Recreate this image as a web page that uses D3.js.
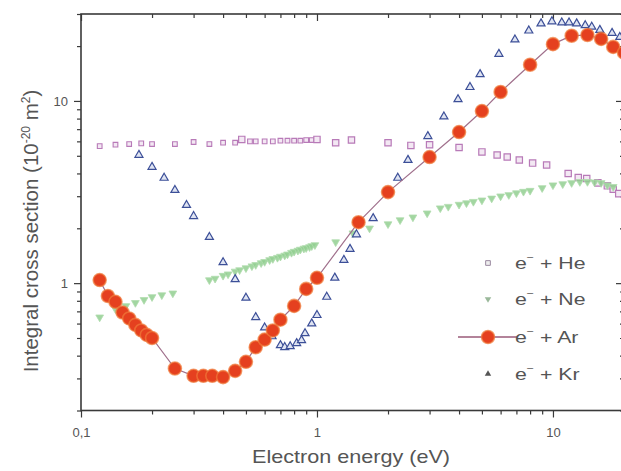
<!DOCTYPE html>
<html>
<head>
<meta charset="utf-8">
<script src="https://cdn.jsdelivr.net/npm/d3@7"></script>
<style>
  html, body { margin: 0; padding: 0; background: #fff; }
  svg { display: block; font-family: "Liberation Sans", Arial, sans-serif; }
</style>
</head>
<body>
<svg id="chart" width="621" height="471"></svg>
<script>
// Integral cross sections for electron scattering on rare gases, [energy eV, sigma 1e-20 m^2]
const heDense = [[0.12,5.65],[0.14,5.75],[0.16,5.8],[0.18,5.85],[0.2,5.8],[0.25,5.8],[0.3,5.95],[0.35,5.8],[0.4,5.9],[0.45,5.9],[0.52,6.0],[0.55,6.0],[0.6,6.0],[0.65,6.0],[0.7,6.05],[0.75,6.05],[0.8,6.05],[0.85,6.05],[0.9,6.1],[0.95,6.1]];
const heSparse = [[0.48,6.15],[1.0,6.15],[1.2,5.9],[1.4,6.1],[2,5.9],[2.5,5.7],[3,5.75],[4,5.55],[5,5.25],[5.8,5.05],[6.4,4.92],[7.2,4.74],[8.2,4.56],[9.4,4.45],[11.6,4.0],[12.8,3.8],[13.9,3.75],[15.5,3.55],[17,3.42],[18,3.28],[19,3.1]];
const neData = [[0.12,0.65],[0.14,0.72],[0.155,0.75],[0.17,0.78],[0.185,0.81],[0.2,0.84],[0.22,0.86],[0.245,0.88],
  [0.35,1.04],[0.37,1.06],[0.4,1.10],[0.42,1.12],[0.45,1.16],[0.47,1.18],[0.5,1.21],[0.53,1.24],[0.55,1.26],[0.58,1.29],[0.6,1.31],[0.63,1.34],[0.65,1.36],[0.68,1.38],[0.7,1.40],[0.73,1.42],[0.75,1.44],[0.78,1.47],[0.8,1.49],[0.83,1.51],[0.85,1.53],[0.88,1.55],[0.9,1.56],[0.93,1.58],[0.95,1.60],[0.98,1.62],
  [1.2,1.68],[1.42,1.88],[1.67,2.0],[2,2.11],[2.25,2.22],[2.55,2.3],[2.93,2.42],[3.33,2.58],[3.6,2.63],[4,2.7],[4.3,2.75],[4.6,2.8],[5,2.85],[5.5,2.92],[6,3.0],[6.5,3.05],[7,3.12],[7.5,3.18],[8,3.22],[9,3.33],[10,3.45],[11,3.5],[12,3.55],[13,3.6],[14,3.6],[15,3.58],[16,3.55],[17,3.45],[18,3.38]];
const arData = [[0.12,1.04],[0.13,0.85],[0.14,0.79],[0.15,0.69],[0.16,0.64],[0.17,0.59],[0.18,0.55],[0.19,0.52],[0.2,0.5],[0.25,0.34],[0.3,0.31],[0.33,0.31],[0.36,0.31],[0.4,0.305],[0.45,0.33],[0.5,0.37],[0.55,0.445],[0.6,0.49],[0.65,0.55],[0.7,0.63],[0.8,0.75],[0.9,0.93],[1.0,1.07],[1.5,2.16],[2,3.16],[3,4.92],[4,6.75],[5,8.8],[6,11.2],[8,15.8],[10,20.5],[12,22.8],[14,23],[16,21.9],[18,19.8],[20,18.4]];
const krData = [[0.176,5.05],[0.2,4.34],[0.225,3.78],[0.25,3.24],[0.28,2.68],[0.3,2.33],[0.35,1.79],[0.4,1.30],[0.45,1.05],[0.5,0.83],[0.55,0.65],[0.6,0.57],[0.645,0.51],[0.7,0.456],[0.73,0.445],[0.77,0.45],[0.82,0.468],[0.86,0.486],[0.89,0.53],[0.95,0.6],[1.0,0.667],[1.1,0.84],[1.19,1.07],[1.3,1.34],[1.38,1.54],[1.47,1.85],[1.73,2.27],[2.2,3.78],[2.43,4.74],[2.95,6.4],[3.45,8.2],[3.96,10.2],[4.45,11.9],[4.91,14],[5.9,18.1],[6.9,21.7],[7.9,24.3],[8.9,26.6],[9.9,27.3],[10.9,26.9],[11.7,26.9],[12.6,26.6],[13.7,26],[14.6,25.5],[15.8,24.5],[17.8,23.6],[19.2,22.4]];

const xTicks = [0.1, 1, 10];
const xTickLabels = ["0,1", "1", "10"];
const yTicks = [1, 10];
const yTickLabels = ["1", "10"];
const legendLabels = ["He", "Ne", "Ar", "Kr"];

const svg = d3.select("#chart");
const plotLeft = 81, plotRight = 624, plotTop = 14, plotBottom = 410.5;

const x = d3.scaleLog().domain([0.1, 20]).range([plotLeft, plotRight]);
const y = d3.scaleLog().domain([0.2, 30]).range([plotBottom, plotTop]);

const axisColor = "#3a3a3a";
const textColor = "#555";

// minor ticks for each decade
const xMinor = [];
[0.1, 1, 10].forEach(d => { for (let k = 2; k <= 9; k++) { const v = d * k; if (v <= 20) xMinor.push(v); } });
const yMinor = [];
[0.1, 1, 10].forEach(d => { for (let k = 2; k <= 9; k++) { const v = d * k; if (v >= 0.2 && v <= 30) yMinor.push(v); } });

const fmtX = d => xTickLabels[xTicks.indexOf(d)];
const fmtY = d => yTickLabels[yTicks.indexOf(d)];

function styleAxis(g) {
  g.select(".domain").remove();
  g.selectAll(".tick line").attr("stroke", axisColor).attr("stroke-width", 1.2);
  g.selectAll(".tick text").attr("fill", textColor).attr("font-size", 13)
    .attr("font-family", "Liberation Sans, Arial, sans-serif");
}

// bottom axis (outward ticks)
svg.append("g").attr("transform", `translate(0,${plotBottom})`)
  .call(d3.axisBottom(x).tickValues(xTicks).tickFormat(fmtX).tickSize(7).tickPadding(10))
  .call(styleAxis);
svg.append("g").attr("transform", `translate(0,${plotBottom})`)
  .call(d3.axisBottom(x).tickValues(xMinor).tickFormat("").tickSize(4))
  .call(styleAxis);
// top axis (inward ticks)
svg.append("g").attr("transform", `translate(0,${plotTop})`)
  .call(d3.axisBottom(x).tickValues(xTicks).tickFormat("").tickSize(7))
  .call(styleAxis);
svg.append("g").attr("transform", `translate(0,${plotTop})`)
  .call(d3.axisBottom(x).tickValues(xMinor).tickFormat("").tickSize(4))
  .call(styleAxis);
// left axis (outward ticks)
svg.append("g").attr("transform", `translate(${plotLeft},0)`)
  .call(d3.axisLeft(y).tickValues(yTicks).tickFormat(fmtY).tickSize(7).tickPadding(6))
  .call(styleAxis);
svg.append("g").attr("transform", `translate(${plotLeft},0)`)
  .call(d3.axisLeft(y).tickValues(yMinor).tickFormat("").tickSize(4))
  .call(styleAxis);
// right axis (inward ticks)
svg.append("g").attr("transform", `translate(${plotRight},0)`)
  .call(d3.axisRight(y).tickValues(yTicks).tickFormat("").tickSize(-8))
  .call(styleAxis);
svg.append("g").attr("transform", `translate(${plotRight},0)`)
  .call(d3.axisRight(y).tickValues(yMinor).tickFormat("").tickSize(-4))
  .call(styleAxis);

// frame
svg.append("rect")
  .attr("x", plotLeft).attr("y", plotTop)
  .attr("width", plotRight - plotLeft).attr("height", plotBottom - plotTop)
  .attr("fill", "none").attr("stroke", axisColor).attr("stroke-width", 1.6);

// marker shapes
const sqSmall = d3.symbol().type(d3.symbolSquare).size(22);
const sqLarge = d3.symbol().type(d3.symbolSquare).size(40);
const triDown = d3.symbol().type(d3.symbolTriangle).size(26);
const triUp = d3.symbol().type(d3.symbolTriangle).size(28);

const heColor = "#b87ab8", neColor = "#92cf90", arFill = "#e5401f", arEdge = "#f07a3a", arLine = "#a0708c", krColor = "#3c4f98";
const arRadius = 6.5;

const plot = svg.append("g");

// He
plot.selectAll(".he-d").data(heDense).join("path").attr("class", "he-d")
  .attr("d", sqSmall).attr("transform", d => `translate(${x(d[0])},${y(d[1])})`)
  .attr("fill", "#f3e8f3").attr("stroke", heColor).attr("stroke-width", 1.1);
plot.selectAll(".he-s").data(heSparse).join("path").attr("class", "he-s")
  .attr("d", sqLarge).attr("transform", d => `translate(${x(d[0])},${y(d[1])})`)
  .attr("fill", "#f3e8f3").attr("stroke", heColor).attr("stroke-width", 1.2);

// Ne
plot.selectAll(".ne").data(neData).join("path").attr("class", "ne")
  .attr("d", triDown).attr("transform", d => `translate(${x(d[0])},${y(d[1])}) rotate(180)`)
  .attr("fill", neColor).attr("fill-opacity", 0.85).attr("stroke", "#b0dcad").attr("stroke-width", 0.8);

// Kr
plot.selectAll(".kr").data(krData).join("path").attr("class", "kr")
  .attr("d", triUp).attr("transform", d => `translate(${x(d[0])},${y(d[1])})`)
  .attr("fill", "#dfe4f2").attr("stroke", krColor).attr("stroke-width", 1.2);

// Ar
plot.append("path").datum(arData)
  .attr("d", d3.line().x(d => x(d[0])).y(d => y(d[1])))
  .attr("fill", "none").attr("stroke", arLine).attr("stroke-width", 1.2);
plot.selectAll(".ar").data(arData).join("circle").attr("class", "ar")
  .attr("cx", d => x(d[0])).attr("cy", d => y(d[1])).attr("r", arRadius)
  .attr("fill", arFill).attr("stroke", arEdge).attr("stroke-opacity", 0.7).attr("stroke-width", 1.6);

// legend
const lg = svg.append("g");
const lgX = 488, lgTextX = 515, lgY = [263, 299, 337, 374];
legendLabels.forEach((lab, i) => {
  const cy = lgY[i];
  if (i === 0) {
    lg.append("path").attr("d", d3.symbol().type(d3.symbolSquare).size(22)())
      .attr("transform", `translate(${lgX},${cy})`).attr("fill", "#eee").attr("stroke", "#9a8aa0").attr("stroke-width", 1);
  } else if (i === 1) {
    lg.append("path").attr("d", d3.symbol().type(d3.symbolTriangle).size(18)())
      .attr("transform", `translate(${lgX},${cy}) rotate(180)`).attr("fill", "#9ab89a");
  } else if (i === 2) {
    lg.append("line").attr("x1", 458).attr("x2", 517).attr("y1", cy).attr("y2", cy)
      .attr("stroke", "#9a5a78").attr("stroke-width", 1.3);
    lg.append("circle").attr("cx", lgX).attr("cy", cy).attr("r", arRadius)
      .attr("fill", arFill).attr("stroke", arEdge).attr("stroke-opacity", 0.7).attr("stroke-width", 1.6);
  } else {
    lg.append("path").attr("d", d3.symbol().type(d3.symbolTriangle).size(18)())
      .attr("transform", `translate(${lgX},${cy})`).attr("fill", "#555");
  }
  const t = lg.append("text")
    .attr("transform", `translate(${lgTextX},${cy + 6}) scale(1.25,1)`)
    .attr("fill", textColor).attr("font-size", 17);
  t.append("tspan").text("e");
  t.append("tspan").attr("dy", -8).attr("font-size", 10).text("\u2212");
  t.append("tspan").attr("dy", 8).text(" + " + lab);
});

// axis titles
svg.append("text").attr("transform", "translate(351,463) scale(1.2,1)").attr("text-anchor", "middle")
  .attr("fill", textColor).attr("font-size", 18).text("Electron energy (eV)");

const yt = svg.append("text").attr("transform", "translate(38,231) rotate(-90)")
  .attr("text-anchor", "middle").attr("fill", textColor).attr("font-size", 20.5);
yt.append("tspan").text("Integral cross section (10");
yt.append("tspan").attr("dy", -8).attr("font-size", 12).text("-20");
yt.append("tspan").attr("dy", 8).text(" m");
yt.append("tspan").attr("dy", -8).attr("font-size", 12).text("2");
yt.append("tspan").attr("dy", 8).text(")");
</script>
</body>
</html>
